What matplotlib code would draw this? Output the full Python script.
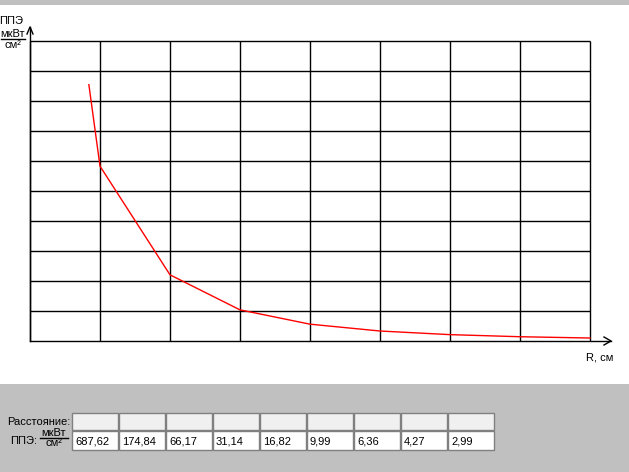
import numpy as np
import matplotlib
matplotlib.use("Agg")
import matplotlib.pyplot as plt
from matplotlib.patches import Rectangle

# values of the plotted series (ППЭ, мкВт/см²), one per grid column
ppe = [687.62, 174.84, 66.17, 31.14, 16.82, 9.99, 6.36, 4.27, 2.99]
ppe_labels = ["687,62", "174,84", "66,17", "31,14", "16,82", "9,99", "6,36", "4,27", "2,99"]
dist = list(range(len(ppe)))
y_max = 300
y_step = 30
clip_top = 257  # the original drawing cuts the first segment here

W, H = 629, 472
plt.rcParams['font.family'] = ['Liberation Sans', 'DejaVu Sans']
fig = plt.figure(figsize=(W / 100, H / 100), dpi=100)

# background layer in pixel coordinates (window, panels, table, arrows)
bg = fig.add_axes([0, 0, 1, 1])
bg.set_xlim(0, W)
bg.set_ylim(H, 0)
bg.axis('off')
gray = '#c0c0c0'
bg.add_patch(Rectangle((0, 0), W, 5, color=gray, lw=0))
bg.add_patch(Rectangle((0, 384), W, H - 384, color=gray, lw=0))

# axes with open arrow heads
bg.plot([30, 30], [341, 27], color='black', lw=1)
bg.plot([27, 30, 33], [34, 27, 34], color='black', lw=1)
bg.plot([30, 611], [341, 341], color='black', lw=1)
bg.plot([604, 611, 604], [337, 341, 345], color='black', lw=1)

fs = 8
bg.text(11, 21, "ППЭ", ha='center', va='center', fontsize=fs)
bg.text(13, 34, "мкВт", ha='center', va='center', fontsize=fs)
bg.plot([1, 25], [39, 39], color='black', lw=1)
bg.text(13, 45, "см²", ha='center', va='center', fontsize=fs)
bg.text(600, 357, "R, см", ha='center', va='center', fontsize=fs)

# table of values
bg.text(70, 422, "Расстояние:", ha='right', va='center', fontsize=fs)
bg.text(37, 441, "ППЭ:", ha='right', va='center', fontsize=fs)
bg.text(54, 433, "мкВт", ha='center', va='center', fontsize=fs)
bg.plot([40, 68], [438, 438], color='black', lw=1)
bg.text(54, 443, "см²", ha='center', va='center', fontsize=fs)
cell_w = 47
for i, lab in enumerate(ppe_labels):
    x0 = 72 + i * cell_w
    bg.add_patch(Rectangle((x0, 413), cell_w - 1, 17, facecolor='#f0f0f0',
                           edgecolor='#808080', lw=1))
    bg.add_patch(Rectangle((x0, 431), cell_w - 1, 19, facecolor='white',
                           edgecolor='#808080', lw=1))
    bg.text(x0 + 3, 441, lab, ha='left', va='center', fontsize=fs)

# plot area
ax = fig.add_axes([30 / W, (H - 341) / H, 560 / W, 300 / H], facecolor='none')
ax.set_xlim(0, len(ppe) - 1)
ax.set_ylim(0, y_max)
ax.axis('off')
ax.vlines(dist, 0, y_max, color='black', lw=1, clip_on=False)
ax.hlines(np.arange(y_step, y_max + 1, y_step), 0, len(ppe) - 1,
          color='black', lw=1, clip_on=False)

line, = ax.plot(dist, ppe, color='red', lw=1)
clip = Rectangle((-1, -5), len(ppe) + 1, clip_top + 5, transform=ax.transData)
line.set_clip_path(clip)

fig.savefig("out.png", dpi=100)
